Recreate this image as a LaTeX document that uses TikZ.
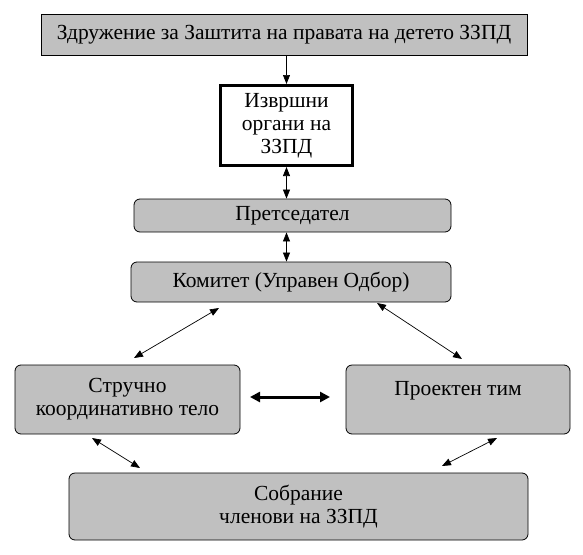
\documentclass[tikz,border=0pt]{standalone}
\usepackage{fontspec}
\setmainfont{Liberation Serif}
\newfontfamily\tnr{Liberation Serif}
\usetikzlibrary{arrows.meta,calc}
\begin{document}
\begin{tikzpicture}[x=1pt,y=-1pt,
  txt/.style={font=\tnr\fontsize{21.5}{23}\selectfont},
  box/.style={txt,draw=black,fill=boxgray,line width=0.8pt,rounded corners=6pt,align=center,inner sep=0pt},
  sq/.style={txt,draw=black,fill=boxgray,line width=0.8pt,align=center,inner sep=0pt},
  con/.style={line width=0.7pt,{Triangle[length=9pt,width=7pt]}-{Triangle[length=9pt,width=7pt]}},
  one/.style={line width=0.7pt,-{Triangle[length=9pt,width=7pt]}},
  thick arr/.style={line width=3pt,{Triangle[length=10pt,width=10pt]}-{Triangle[length=10pt,width=10pt]}}]
\definecolor{boxgray}{RGB}{192,192,192}
\useasboundingbox (0,0) rectangle (583,554);
\node[sq,minimum width=486pt,minimum height=41pt] (top) at (284,34.5) {Здружение за Заштита на правата на детето ЗЗПД};
\node[txt,draw=black,fill=white,line width=3pt,minimum width=132pt,minimum height=80pt,align=center,inner sep=0pt] (izv) at (286.5,125.5) {Извршни\\органи на\\ЗЗПД};
\node[box,minimum width=317pt,minimum height=33pt] (pre) at (292.5,215.5) {\raisebox{-5pt}{Претседател}};
\node[box,minimum width=320pt,minimum height=40pt] (kom) at (291,282) {Комитет (Управен Одбор)};
\node[box,minimum width=225pt,minimum height=69pt] (str) at (127.5,399.5) {Стручно\\координативно тело};
\node[box,minimum width=224pt,minimum height=69pt] (pro) at (458,399.5) {Проектен тим\\\mbox{}};
\node[box,minimum width=459pt,minimum height=67pt] (sob) at (298.5,506.5) {Собрание\\членови на ЗЗПД};
\coordinate (a1) at (219,308);
\coordinate (a2) at (134,358);
\coordinate (b1) at (377,303);
\coordinate (b2) at (462,359);
\coordinate (c1) at (92,438);
\coordinate (c2) at (140,468);
\coordinate (d1) at (497,438);
\coordinate (d2) at (442,466);
\coordinate (e1) at (250,397);
\coordinate (e2) at (330,397);
\draw[one] (top.south -| izv.north) -- (izv.north);
\draw[con] (izv.south) -- (izv.south |- pre.north);
\draw[con] (izv.south |- pre.south) -- (izv.south |- kom.north);
\draw[con] (a1) -- (a2);
\draw[con] (b1) -- (b2);
\draw[con] (c1) -- (c2);
\draw[con] (d1) -- (d2);
\draw[thick arr] (e1) -- (e2);
\end{tikzpicture}
\end{document}
